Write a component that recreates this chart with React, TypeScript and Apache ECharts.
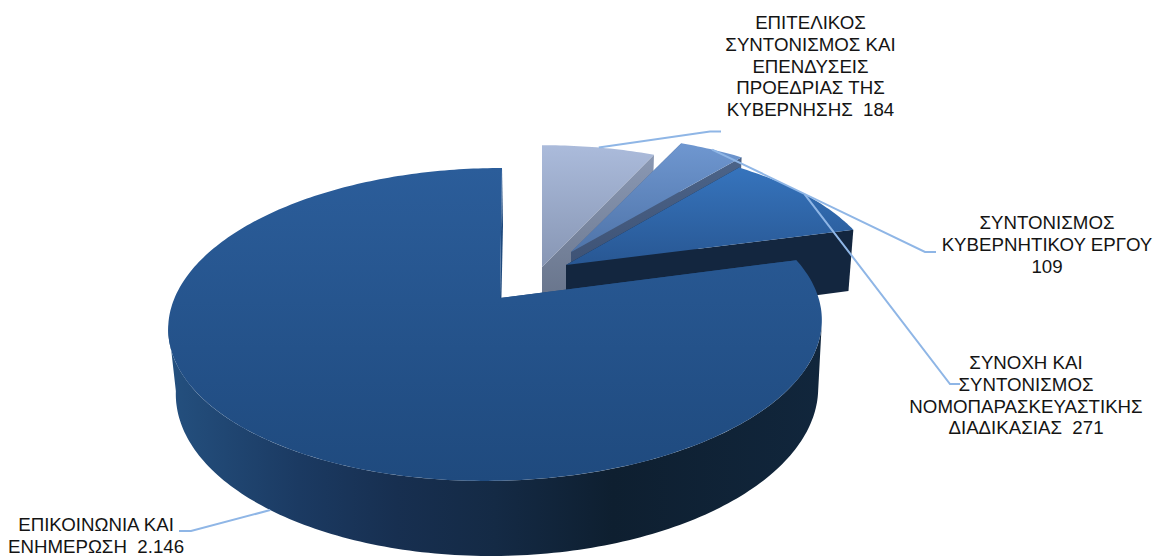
import React, { useEffect, useRef } from "react";
import * as echarts from "echarts";

const sliceNames = [
  "ΕΠΙΤΕΛΙΚΟΣ\nΣΥΝΤΟΝΙΣΜΟΣ ΚΑΙ\nΕΠΕΝΔΥΣΕΙΣ\nΠΡΟΕΔΡΙΑΣ ΤΗΣ\nΚΥΒΕΡΝΗΣΗΣ  ",
  "ΣΥΝΤΟΝΙΣΜΟΣ\nΚΥΒΕΡΝΗΤΙΚΟΥ ΕΡΓΟΥ\n",
  "ΣΥΝΟΧΗ ΚΑΙ\nΣΥΝΤΟΝΙΣΜΟΣ\nΝΟΜΟΠΑΡΑΣΚΕΥΑΣΤΙΚΗΣ\nΔΙΑΔΙΚΑΣΙΑΣ  ",
  "ΕΠΙΚΟΙΝΩΝΙΑ ΚΑΙ\nΕΝΗΜΕΡΩΣΗ  ",
];
const sliceValues = [184, 109, 271, 2146];

// Layout of the projected pie
const CY = 298, RX = 322, RY = 152, K = 0.169, DEPTH = 65, DEPTH_SCALE = 0.983;
const sliceApex = [[542, 267], [571, 252], [566, 265], [500, 298]];
const sliceStyles = [
  { top: ["#abbbdb", "#8796b4"], start: "#7e8ca8", end: ["#8a98b3", "#616d83"] },
  { top: ["#6f97d0", "#4f74a9"], start: "#4a6288", end: ["#4c6489", "#374a6c"] },
  { top: ["#3674bd", "#285793"], start: "#13263f", end: ["#13263f", "#13263f"] },
  { top: ["#2b5d9a", "#1f4a7e"], start: "#1f4a7e", end: ["#1f4a7e", "#1f4a7e"] },
];
const mainWallStops = [
  [0, "#24507f"], [0.2, "#1b3a62"], [0.35, "#172f50"], [0.5, "#142a45"], [0.68, "#0e1f30"], [1, "#11263c"],
];
const labelCenters = [[810.5, 23], [1047, 223], [1026, 363], [96, 525]];
const leaderElbows = [
  [[710, 131.5], [721, 131.5]],
  [[925, 252], [936, 252]],
  [[950, 384], [960, 384]],
  [[191, 531], [179, 531]],
];

const total = sliceValues.reduce((a, b) => a + b, 0);
const lastSlice = sliceValues.length - 1;
const startAngle = (i: number) =>
  (sliceValues.slice(0, i).reduce((a, b) => a + b, 0) / total) * Math.PI * 2;
const endAngle = (i: number) => startAngle(i + 1);
const formatValue = (v: number) => String(v).replace(/\B(?=(\d{3})+$)/g, ".");

function project(i: number, x: number, y: number, bottom: boolean) {
  const [ax, ay] = sliceApex[i];
  const d = (ay - CY) / RY;
  const Y = d / (1 + K * d) + y;
  const w = 1 / (1 - K * Y);
  const s = bottom ? DEPTH_SCALE : 1;
  return [ax + RX * x * w * s, CY + (RY * Y * s + (bottom ? DEPTH : 0)) * w];
}
// The large slice's rim leans slightly to the left towards the viewer.
const lean = (y: number, bottom: boolean) =>
  bottom ? -1.95 - 6 * y - 1.05 * y * y : -3.46 - 8.5 * y - 3.04 * y * y;
function rim(i: number, t: number, bottom: boolean) {
  const y = -Math.cos(t);
  const p = project(i, Math.sin(t), y, bottom);
  if (i === lastSlice) p[0] += lean(y, bottom);
  return p;
}
function arc(i: number, bottom: boolean, a0 = startAngle(i), a1 = endAngle(i)) {
  const n = Math.max(8, Math.ceil((a1 - a0) / (Math.PI / 180)));
  const pts: number[][] = [];
  for (let k = 0; k <= n; k++) pts.push(rim(i, a0 + ((a1 - a0) * k) / n, bottom));
  return pts;
}
const vgrad = (a: string, b: string) =>
  new echarts.graphic.LinearGradient(0, 0, 0, 1, [{ offset: 0, color: a }, { offset: 1, color: b }]);
const wallFill = () =>
  new echarts.graphic.LinearGradient(0, 0, 1, 0, mainWallStops.map(([offset, color]) => ({ offset, color })) as any);

function renderSlice(params: any) {
  const i = params.dataIndex;
  const st = sliceStyles[i];
  const apexTop = project(i, 0, 0, false);
  const apexBottom = project(i, 0, 0, true);
  const a0 = startAngle(i), a1 = endAngle(i);
  const poly = (points: number[][], fill: any) => ({
    type: "polygon",
    shape: { points },
    style: { fill, stroke: null },
    silent: true,
  });
  const children: any[] = [
    poly([apexTop, rim(i, a0, false), rim(i, a0, true), apexBottom], st.start),
  ];
  if (i === lastSlice) {
    // Only the part of the outer wall facing the viewer, between the two silhouette tangents.
    const w0 = Math.acos(-K), w1 = Math.PI * 2 - w0;
    children.push(poly([...arc(i, false, w0, w1), ...arc(i, true, w0, w1).reverse()], wallFill()));
  }
  children.push(
    poly([apexTop, rim(i, a1, false), rim(i, a1, true), apexBottom], vgrad(st.end[0], st.end[1])),
    poly([apexTop, ...arc(i, false)], vgrad(st.top[0], st.top[1])),
  );
  return { type: "group", children };
}

function renderLabel(params: any, api: any) {
  const i = params.dataIndex;
  const value = api.value(0);
  const mid = (startAngle(i) + endAngle(i)) / 2;
  const start = rim(i, mid, i === lastSlice);
  const [lx, ly] = labelCenters[i];
  return {
    type: "group",
    silent: true,
    children: [
      {
        type: "polyline",
        shape: { points: [start, ...leaderElbows[i]] },
        style: { stroke: "#8fb6e6", lineWidth: 2, fill: null },
      },
      {
        type: "text",
        x: lx,
        y: ly - 11,
        style: {
          text: sliceNames[i] + formatValue(value),
          fill: "#141414",
          font: '18.7px "Liberation Sans", Arial, sans-serif',
          lineHeight: 21.7,
          align: "center",
          verticalAlign: "top",
        },
      },
    ],
  };
}

export default function App() {
  const ref = useRef<HTMLDivElement>(null);
  useEffect(() => {
    const chart = echarts.init(ref.current!, null, { renderer: "svg" });
    chart.setOption({
      animation: false,
      backgroundColor: "#ffffff",
      tooltip: { show: false },
      series: [
        {
          type: "custom",
          coordinateSystem: "none",
          renderItem: renderSlice,
          data: sliceValues.map((v) => [v]),
          silent: true,
        },
        {
          type: "custom",
          coordinateSystem: "none",
          renderItem: renderLabel,
          data: sliceValues.map((v) => [v]),
          silent: true,
        },
      ],
    });
    return () => chart.dispose();
  }, []);
  return (
    <div
      ref={ref}
      style={{ position: "absolute", left: 0, top: 0, width: 1154, height: 556 }}
    />
  );
}
